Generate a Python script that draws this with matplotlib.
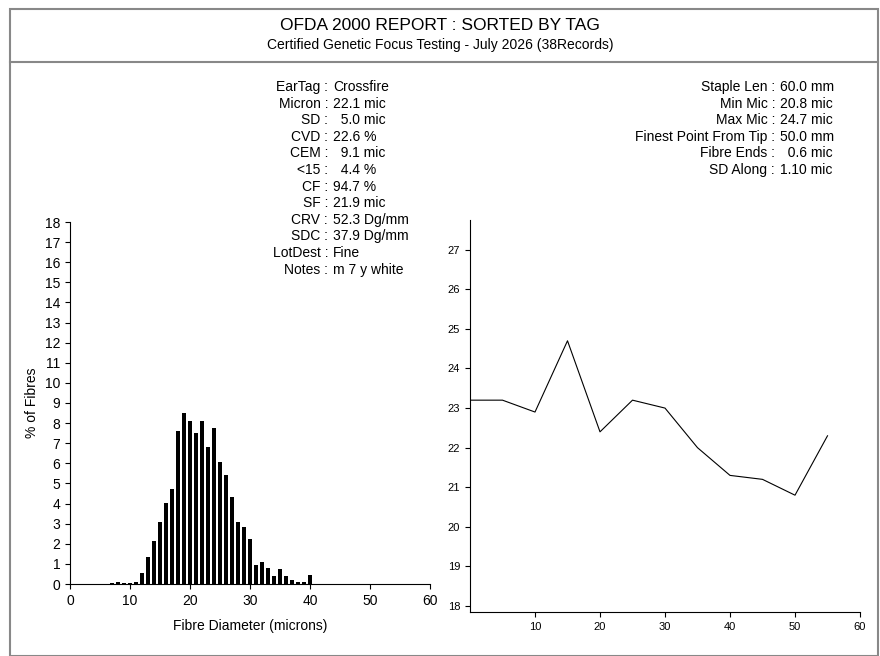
import numpy as np
import matplotlib.pyplot as plt
from matplotlib.patches import Rectangle
from matplotlib.lines import Line2D

microns = list(range(7, 41))
pct = [0.05, 0.1, 0.05, 0.05, 0.1, 0.55, 1.35, 2.15, 3.1, 4.05, 4.7, 7.6, 8.5, 8.1,
       7.5, 8.1, 6.8, 7.75, 6.05, 5.4, 4.35, 3.1, 2.85, 2.25, 0.95, 1.1, 0.8, 0.4,
       0.75, 0.4, 0.2, 0.1, 0.1, 0.45]

along_pos = [0, 5, 10, 15, 20, 25, 30, 35, 40, 45, 50, 55]
along_mic = [23.2, 23.2, 22.9, 24.7, 22.4, 23.2, 23.0, 22.0, 21.3, 21.2, 20.8, 22.3]

left_labels = ["EarTag :", "Micron :", "SD :", "CVD :", "CEM :", "<15 :", "CF :", "SF :",
               "CRV :", "SDC :", "LotDest :", "Notes :"]
left_values = ["Crossfire", "22.1 mic", "  5.0 mic", "22.6 %", "  9.1 mic", "  4.4 %",
               "94.7 %", "21.9 mic", "52.3 Dg/mm", "37.9 Dg/mm", "Fine", "m 7 y white"]
right_labels = ["Staple Len :", "Min Mic :", "Max Mic :", "Finest Point From Tip :",
                "Fibre Ends :", "SD Along :"]
right_values = ["60.0 mm", "20.8 mic", "24.7 mic", "50.0 mm", "  0.6 mic", "1.10 mic"]

W, H = 880, 656
fig = plt.figure(figsize=(W/100, H/100), dpi=100)
plt.rcParams['font.family'] = ['Liberation Sans', 'DejaVu Sans']

def fx(px): return px / W
def fy(py): return 1 - py / H

# frame
fig.patches.append(Rectangle((fx(10), fy(656)), fx(868), fy(9) - fy(656), transform=fig.transFigure,
                             fill=False, edgecolor='#888888', lw=1.5))
fig.lines.append(Line2D([fx(10), fx(878)], [fy(62), fy(62)], transform=fig.transFigure, color='#888888', lw=1.5))
fig.text(0.5, fy(25), "OFDA 2000 REPORT : SORTED BY TAG", ha='center', va='center', fontsize=12.5)
fig.text(0.5, fy(45), "Certified Genetic Focus Testing - July 2026 (38Records)", ha='center', va='center', fontsize=10)

for i, (l, v) in enumerate(zip(left_labels, left_values)):
    y = fy(87 + i * 16.6)
    fig.text(fx(328), y, l, ha='right', va='center', fontsize=10)
    fig.text(fx(333), y, v, ha='left', va='center', fontsize=10)
for i, (l, v) in enumerate(zip(right_labels, right_values)):
    y = fy(87 + i * 16.6)
    fig.text(fx(775), y, l, ha='right', va='center', fontsize=10)
    fig.text(fx(780), y, v, ha='left', va='center', fontsize=10)

# histogram
ax1 = fig.add_axes([fx(70), fy(584), fx(430) - fx(70), fy(222) - fy(584)])
ax1.bar(microns, pct, width=0.6, color='black')
ax1.set_xlim(0, 60)
ax1.set_ylim(0, 18)
ax1.set_xticks(range(0, 61, 10))
ax1.set_yticks(range(0, 19))
ax1.spines[['top', 'right']].set_visible(False)
ax1.set_xlabel("Fibre Diameter (microns)", fontsize=10, labelpad=8)
ax1.set_ylabel("% of Fibres", fontsize=10)
ax1.tick_params(labelsize=10)

# along-staple profile
ax2 = fig.add_axes([fx(470), fy(612), fx(860) - fx(470), fy(220) - fy(612)])
ax2.plot(along_pos, along_mic, color='black', lw=0.8)
ax2.set_xlim(0, 60)
ax2.set_ylim(17.85, 27.75)
ax2.set_xticks(range(10, 61, 10))
ax2.set_yticks(range(18, 28))
ax2.spines[['top', 'right']].set_visible(False)
ax2.tick_params(labelsize=8)

fig.savefig("out.png", dpi=100)
